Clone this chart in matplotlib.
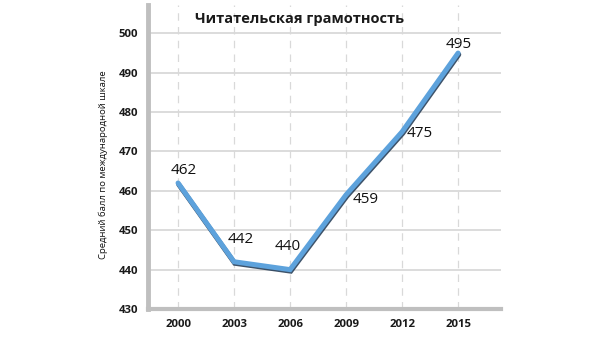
import matplotlib.pyplot as plt
import matplotlib.patheffects as pe

years = [2000, 2003, 2006, 2009, 2012, 2015]
scores = [462, 442, 440, 459, 475, 495]
# label offsets in pixels relative to the point
label_dx = [6, 7, -2, 20, 18, 1]
label_dy = [12, 22, 23, -5, -2, 9]
yticks = [430, 440, 450, 460, 470, 480, 490, 500]

plt.rcParams['font.family'] = ['Open Sans', 'DejaVu Sans']

fig = plt.figure(figsize=(6, 3.37), dpi=100)
ax = fig.add_axes([148 / 600, 1 - 309 / 337, 353 / 600, 304 / 337])

ax.set_xlim(1998.39, 2017.3)
ax.set_ylim(430, 507.2)

for y in yticks[1:]:
    ax.axhline(y, color='#d9d9d9', lw=1.3, zorder=1)
for x in years:
    ax.axvline(x, color='#d9d9d9', lw=0.9, ls=(0, (6, 5)), zorder=1)

ax.plot(years, scores, color='#5da2dc', lw=3.6, solid_capstyle='round',
        solid_joinstyle='miter', zorder=3,
        path_effects=[pe.SimpleLineShadow(offset=(0.5, -1.1), shadow_color='#1c3550', alpha=0.85),
                      pe.Normal()])

for x, y, dx, dy in zip(years, scores, label_dx, label_dy):
    ax.annotate(str(y), (x, y), xytext=(dx, dy), textcoords='offset pixels',
                ha='center', va='center', fontsize=11, color='#111111', zorder=4)

for s in ['top', 'right']:
    ax.spines[s].set_visible(False)
ax.spines['left'].set_color('#bfbfbf')
ax.spines['left'].set_linewidth(3.5)
ax.spines['bottom'].set_color('#bfbfbf')
ax.spines['bottom'].set_linewidth(3.0)

ax.set_xticks(years)
ax.set_yticks(yticks)
ax.tick_params(length=0, labelsize=8.2, colors='#1a1a1a', pad=7)
for lbl in ax.get_xticklabels() + ax.get_yticklabels():
    lbl.set_fontweight('bold')

ax.text(0.43, 0.955, 'Читательская грамотность', transform=ax.transAxes,
        ha='center', va='center', fontsize=10.5, fontweight='bold', color='#1a1a1a')

fig.text(103 / 600, 1 - 165 / 337, 'Средний балл по международной шкале',
         rotation=90, ha='center', va='center', fontsize=6.8, color='#111111')

fig.savefig('out.png', dpi=100)
